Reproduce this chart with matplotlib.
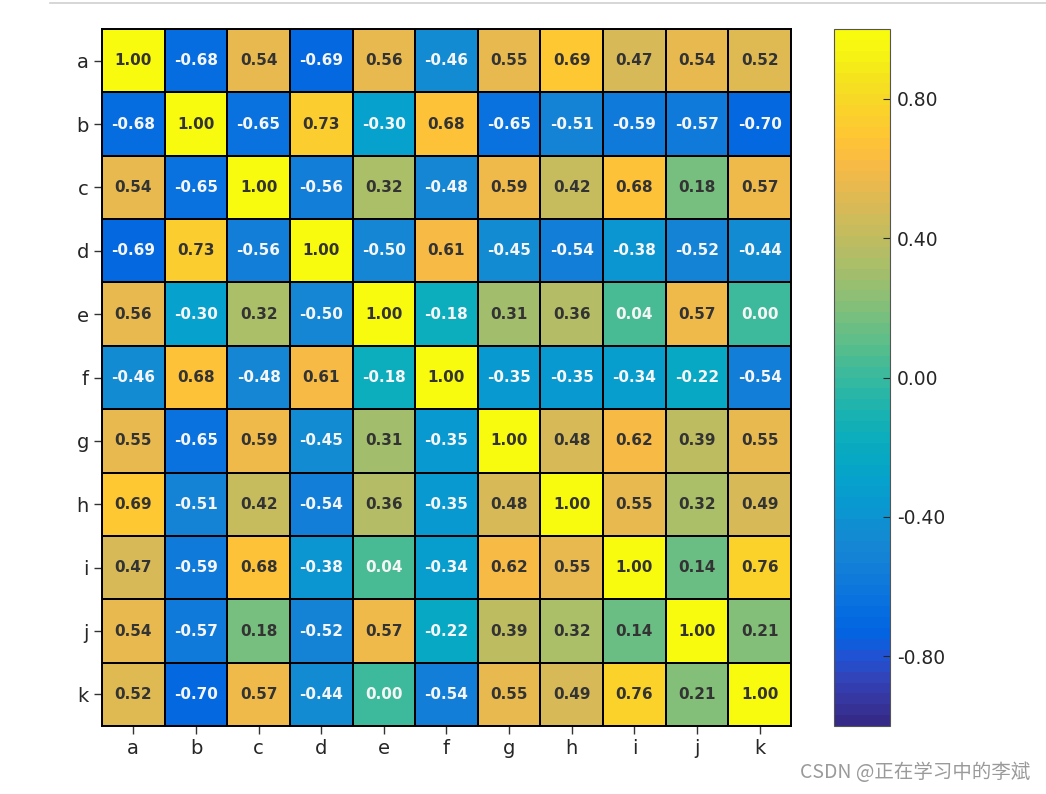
import matplotlib
matplotlib.use("Agg")
import matplotlib.pyplot as plt
import numpy as np
from matplotlib.colors import LinearSegmentedColormap
from matplotlib.lines import Line2D

# parula-like colormap (MATLAB default)
parula_pts = [
    (0.2081, 0.1663, 0.5292), (0.2123, 0.2138, 0.6270), (0.1959, 0.2645, 0.7279),
    (0.1253, 0.3242, 0.8303), (0.0117, 0.3875, 0.8820), (0.0165, 0.4266, 0.8786),
    (0.0498, 0.4586, 0.8641), (0.0723, 0.4887, 0.8467), (0.0793, 0.5200, 0.8312),
    (0.0641, 0.5570, 0.8240), (0.0343, 0.5966, 0.8199), (0.0239, 0.6287, 0.8038),
    (0.0228, 0.6535, 0.7768), (0.0384, 0.6743, 0.7436), (0.0843, 0.6928, 0.7062),
    (0.1453, 0.7098, 0.6646), (0.2178, 0.7250, 0.6193), (0.3022, 0.7376, 0.5712),
    (0.3953, 0.7459, 0.5244), (0.4871, 0.7491, 0.4840), (0.5709, 0.7485, 0.4494),
    (0.6473, 0.7456, 0.4188), (0.7184, 0.7411, 0.3905), (0.7858, 0.7356, 0.3633),
    (0.8507, 0.7299, 0.3360), (0.9139, 0.7258, 0.3063), (0.9739, 0.7314, 0.2666),
    (0.9990, 0.7653, 0.2164), (0.9880, 0.8066, 0.1794), (0.9697, 0.8481, 0.1475),
    (0.9589, 0.8949, 0.1132), (0.9661, 0.9514, 0.0755), (0.9763, 0.9831, 0.0538),
]
parula = LinearSegmentedColormap.from_list("parula", parula_pts, N=64)

labels = ["a", "b", "c", "d", "e", "f", "g", "h", "i", "j", "k"]
row_a = [1.00, -0.68, 0.54, -0.69, 0.56, -0.46, 0.55, 0.69, 0.47, 0.54, 0.52]
row_b = [-0.68, 1.00, -0.65, 0.73, -0.30, 0.68, -0.65, -0.51, -0.59, -0.57, -0.70]
row_c = [0.54, -0.65, 1.00, -0.56, 0.32, -0.48, 0.59, 0.42, 0.68, 0.18, 0.57]
row_d = [-0.69, 0.73, -0.56, 1.00, -0.50, 0.61, -0.45, -0.54, -0.38, -0.52, -0.44]
row_e = [0.56, -0.30, 0.32, -0.50, 1.00, -0.18, 0.31, 0.36, 0.04, 0.57, 0.00]
row_f = [-0.46, 0.68, -0.48, 0.61, -0.18, 1.00, -0.35, -0.35, -0.34, -0.22, -0.54]
row_g = [0.55, -0.65, 0.59, -0.45, 0.31, -0.35, 1.00, 0.48, 0.62, 0.39, 0.55]
row_h = [0.69, -0.51, 0.42, -0.54, 0.36, -0.35, 0.48, 1.00, 0.55, 0.32, 0.49]
row_i = [0.47, -0.59, 0.68, -0.38, 0.04, -0.34, 0.62, 0.55, 1.00, 0.14, 0.76]
row_j = [0.54, -0.57, 0.18, -0.52, 0.57, -0.22, 0.39, 0.32, 0.14, 1.00, 0.21]
row_k = [0.52, -0.70, 0.57, -0.44, 0.00, -0.54, 0.55, 0.49, 0.76, 0.21, 1.00]
corr = np.array([row_a, row_b, row_c, row_d, row_e, row_f,
                 row_g, row_h, row_i, row_j, row_k])
cbar_ticks = [-0.8, -0.4, 0.0, 0.4, 0.8]

fig = plt.figure(figsize=(10.46, 7.94), dpi=100)
ax = fig.add_axes([0.0975, 0.0855, 0.6587, 0.878])
cax = fig.add_axes([0.7973, 0.0855, 0.0535, 0.878])

n = len(labels)
mesh = ax.pcolormesh(np.arange(n + 1) - 0.5, np.arange(n + 1) - 0.5, corr,
                     cmap=parula, vmin=-1, vmax=1, edgecolors="black", linewidth=1.4)
ax.set_xlim(-0.5, n - 0.5)
ax.set_ylim(n - 0.5, -0.5)
ax.set_xticks(range(n))
ax.set_yticks(range(n))
ax.set_xticklabels(labels, fontsize=14, color="#262626")
ax.set_yticklabels(labels, fontsize=14, color="#262626")
ax.tick_params(length=6, width=1, color="#333333")
for s in ax.spines.values():
    s.set_linewidth(1.4)

for i in range(n):
    for j in range(n):
        v = corr[i, j]
        col = "#f5f5f5" if v < 0.1 else "#333333"
        ax.text(j, i, f"{v:.2f}", ha="center", va="center",
                fontsize=11, fontweight="bold", color=col)

cb = fig.colorbar(mesh, cax=cax, ticks=cbar_ticks, format="%.2f")
cb.outline.set_edgecolor("#555555")
cb.outline.set_linewidth(0.8)
cax.tick_params(labelsize=13.5, length=5, direction="in", pad=5, colors="#262626")

# screenshot frame line and watermark
fig.add_artist(Line2D([0.048, 1.0], [0.996, 0.996], color="#d0d0d0", lw=1.2))
fig.text(0.985, 0.027, "CSDN @正在学习中的李斌", ha="right", va="center",
         fontsize=14, color="#9a9a9a",
         family=["Noto Sans CJK SC", "DejaVu Sans"])

fig.savefig("out.png", dpi=100)
